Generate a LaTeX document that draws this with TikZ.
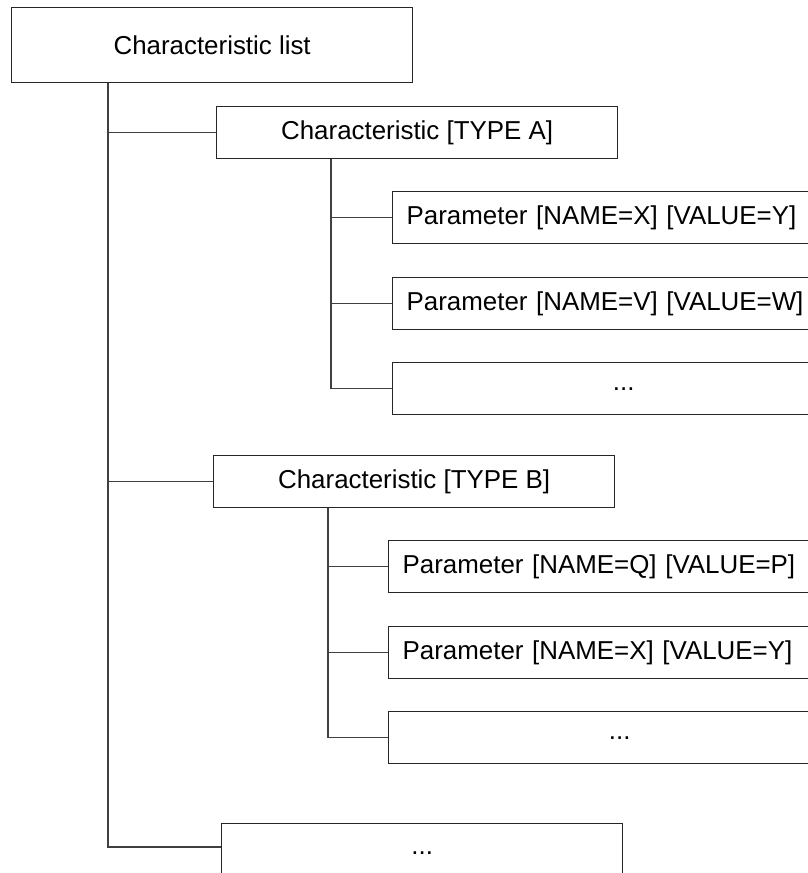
\documentclass[tikz,border=0pt]{standalone}
\usepackage{fontspec}
\setmainfont{Liberation Sans}
\usepackage{xcolor}
\usepackage{tikz}
\usetikzlibrary{positioning, calc}

\begin{document}
\begin{tikzpicture}[x=1pt, y=1pt]
    % Define styles
    \tikzstyle{box} = [rectangle, draw=black!85, line width=1.3pt, anchor=north west, minimum width=401pt, minimum height=52pt, inner sep=0pt, align=center, font=\fontsize{25.9}{30}\selectfont]
    \tikzstyle{rootbox} = [box, minimum height=75pt]
    \tikzstyle{param} = [box, text width=434pt, inner xsep=14pt, align=left, minimum width=462pt]
    \tikzstyle{paramdots} = [param, align=center]
    \tikzstyle{line} = [draw=black!75, line width=1.3pt]

    % Canvas
    \useasboundingbox (0,0) rectangle (808,-873);
    \clip (0,0) rectangle (808,-873);

    % Root
    \node[rootbox] (root) at (11,-7) {Characteristic list};

    % Characteristic A
    \node[box] (typeA) at (216,-106) {Characteristic [TYPE A]};
    \node[param] (parA1) at (392,-191) {Parameter [NAME=X] [VALUE=Y]};
    \node[param] (parA2) at (392,-277) {Parameter [NAME=V] [VALUE=W]};
    \node[paramdots] (dotsA) at (392,-362) {...};

    % Characteristic B
    \node[box] (typeB) at (213,-455) {Characteristic [TYPE B]};
    \node[param] (parB1) at (388,-540) {Parameter [NAME=Q] [VALUE=P]};
    \node[param] (parB2) at (388,-626) {Parameter [NAME=X] [VALUE=Y]};
    \node[paramdots] (dotsB) at (388,-711) {...};

    % More characteristics
    \node[box, minimum height=58pt] (more) at (221,-823) {...};

    % Trunk and hubs
    \coordinate (trunk) at (108,-847);
    \coordinate[xshift=115pt] (hubA) at (typeA.south west);
    \coordinate[xshift=115pt] (hubB) at (typeB.south west);

    % Connectors - root
    \draw[line] (root.south -| trunk) -- (trunk) -- (more.west |- trunk);
    \draw[line] (trunk |- typeA.west) -- (typeA.west);
    \draw[line] (trunk |- typeB.west) -- (typeB.west);

    % Connectors - A
    \draw[line] (hubA) -- (hubA |- dotsA.west) -- (dotsA.west);
    \draw[line] (hubA |- parA1.west) -- (parA1.west);
    \draw[line] (hubA |- parA2.west) -- (parA2.west);

    % Connectors - B
    \draw[line] (hubB) -- (hubB |- dotsB.west) -- (dotsB.west);
    \draw[line] (hubB |- parB1.west) -- (parB1.west);
    \draw[line] (hubB |- parB2.west) -- (parB2.west);

\end{tikzpicture}
\end{document}
